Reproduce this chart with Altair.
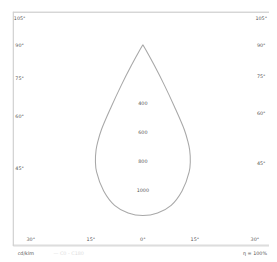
import math
import altair as alt
import pandas as pd

# Luminous intensity distribution (cd/klm), symmetric about nadir
gamma_deg = [0, 5, 10, 15, 20, 22, 24, 25, 26, 27, 28, 29, 30, 35]
intensity = [1173, 1160, 1120, 1040, 930, 870, 790, 730, 650, 480, 320, 160, 40, 0]

side_angles = [105, 90, 75, 60, 45]
bottom_angles = [-30, -15, 0, 15, 30]
ring_values = [400, 600, 800, 1000]

PX = 0.15  # pixels per cd/klm
XMIN, XMAX = -134 / PX, 130 / PX
YMIN, YMAX = -34 / PX, 207 / PX

# curve points (left half mirrored, then right half)
pts = []
seq = 0
for g, i in list(zip([-a for a in gamma_deg[::-1]], intensity[::-1])) + list(zip(gamma_deg[1:], intensity[1:])):
    r = math.radians(g)
    pts.append({"x": i * math.sin(r), "y": i * math.cos(r), "o": seq})
    seq += 1
curve_df = pd.DataFrame(pts)

xs = alt.Scale(domain=[XMIN, XMAX], nice=False, zero=False)
ys = alt.Scale(domain=[YMIN, YMAX], nice=False, zero=False, reverse=True)

def X(f):
    return alt.X(f, type="quantitative", scale=xs, axis=None)

def Y(f):
    return alt.Y(f, type="quantitative", scale=ys, axis=None)

curve = alt.Chart(curve_df).mark_line(color="#a8a8a8", strokeWidth=1.1,
                                      interpolate="catmull-rom").encode(
    x=X("x"), y=Y("y"), order="o:Q"
)

# frame
frame_h = pd.DataFrame({"x": [XMIN, XMIN], "x2": [XMAX, XMAX],
                        "y": [YMIN + 0.5 / PX, YMAX - 0.5 / PX]})
frame_v = pd.DataFrame({"x": [XMIN + 0.5 / PX], "y": [YMIN], "y2": [YMAX]})
fh = alt.Chart(frame_h).mark_rule(color="#cfcfcf", strokeWidth=1).encode(
    x=X("x"), x2="x2", y=Y("y"))
fv = alt.Chart(frame_v).mark_rule(color="#cfcfcf", strokeWidth=1).encode(
    x=X("x"), y=Y("y"), y2="y2")

# side labels where rays meet frame
LX_L, LX_R = -127 / PX, 122 / PX
side = []
for a in side_angles:
    for xe in (LX_L, LX_R):
        y = abs(xe) / math.tan(math.radians(a)) if a != 90 else 0.0
        y = max(y, -28 / PX)
        side.append({"x": xe, "y": y, "t": f"{a}°"})
side_df = pd.DataFrame(side)

YB = 200 / PX
bottom = []
for a in bottom_angles:
    x = YB * math.tan(math.radians(a))
    x = max(min(x, 122 / PX), -124 / PX)
    bottom.append({"x": x, "y": YB, "t": f"{abs(a)}°"})
bottom_df = pd.DataFrame(bottom)

ring_df = pd.DataFrame({"x": [0] * len(ring_values), "y": ring_values,
                        "t": [str(v) for v in ring_values]})

txt = dict(fontSize=5, color="#555555", baseline="middle", font="DejaVu Sans")
t_side = alt.Chart(side_df).mark_text(align="center", **txt).encode(x=X("x"), y=Y("y"), text="t")
t_bot = alt.Chart(bottom_df).mark_text(align="center", **txt).encode(x=X("x"), y=Y("y"), text="t")
t_ring = alt.Chart(ring_df).mark_text(align="center", **txt).encode(x=X("x"), y=Y("y"), text="t")

foot_df = pd.DataFrame({
    "x": [XMIN + 5 / PX, XMIN + 42 / PX, XMAX - 2 / PX],
    "y": [215 / PX, 215 / PX, 215 / PX],
    "t": ["cd/klm", "— C0 - C180", "η = 100%"],
})
foot_l = alt.Chart(foot_df.iloc[[0]]).mark_text(align="left", **txt).encode(x=X("x"), y=Y("y"), text="t")
foot_m = alt.Chart(foot_df.iloc[[1]]).mark_text(align="left", fontSize=5, color="#dddddd",
                                                 baseline="middle", font="DejaVu Sans").encode(
    x=X("x"), y=Y("y"), text="t")
foot_r = alt.Chart(foot_df.iloc[[2]]).mark_text(align="right", **txt).encode(x=X("x"), y=Y("y"), text="t")

chart = alt.layer(fh, fv, curve, t_side, t_bot, t_ring, foot_l, foot_m, foot_r).properties(
    width=264, height=241,
    autosize=alt.AutoSizeParams(type="none"),
    padding={"left": 5, "top": 0, "right": 0, "bottom": 12},
).configure_view(stroke=None).configure(background="white")

chart.save("out.html", embed_options={"renderer": "svg", "actions": False})
